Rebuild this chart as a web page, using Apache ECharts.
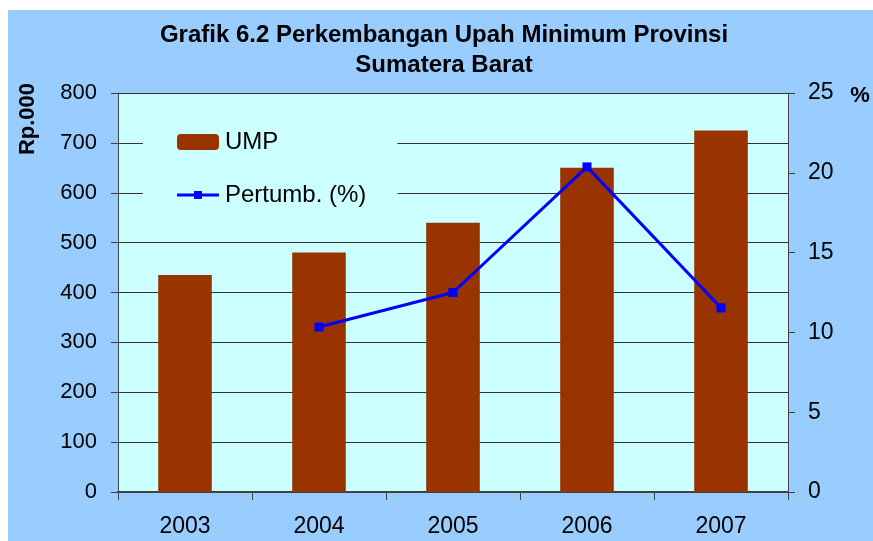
<!DOCTYPE html>
<html>
<head>
<meta charset="utf-8">
<script src="https://cdn.jsdelivr.net/npm/echarts@6/dist/echarts.min.js"></script>
<style>
  html, body { margin: 0; padding: 0; background: #ffffff; }
  #chart { width: 873px; height: 541px; }
</style>
</head>
<body>
<div id="chart"></div>
<script>
// Upah Minimum Provinsi Sumatera Barat (Rp.000) and its yearly growth (%)
const years = ['2003', '2004', '2005', '2006', '2007'];
const ump = [435, 480, 540, 650, 725];
const pertumbuhan = [null, 10.34, 12.5, 20.37, 11.54];
const leftTicks = { min: 0, max: 800, interval: 100 };
const rightTicks = { min: 0, max: 25, interval: 5 };

const FONT = '"Liberation Sans", Arial, sans-serif';
const chart = echarts.init(document.getElementById('chart'), null, { renderer: 'canvas' });

// legend icon for the growth line: a thick stroke with a square marker in the middle
const lineWithSquare = 'path://M0,6.5L42,6.5L42,9.5L0,9.5Z M17,4L25,4L25,12L17,12Z';

chart.setOption({
  backgroundColor: '#ffffff',
  animation: false,
  title: {
    text: 'Grafik 6.2 Perkembangan Upah Minimum Provinsi\nSumatera Barat',
    left: 439,
    top: 15,
    textAlign: 'center',
    textStyle: {
      fontFamily: FONT, fontSize: 24, fontWeight: 'bold', color: '#000000', lineHeight: 30
    }
  },
  graphic: [
    {
      type: 'rect', z: -10, silent: true,
      shape: { x: 8, y: 10, width: 865, height: 531 },
      style: { fill: '#99CCFF' }
    },
    {
      type: 'text', x: 28, y: 119, rotation: Math.PI / 2,
      style: {
        text: 'Rp.000', fontFamily: FONT, fontSize: 22, fontWeight: 'bold',
        fill: '#000000', align: 'center', verticalAlign: 'middle'
      }
    },
    {
      type: 'text', x: 860, y: 96,
      style: {
        text: '%', fontFamily: FONT, fontSize: 22, fontWeight: 'bold',
        fill: '#000000', align: 'center', verticalAlign: 'middle'
      }
    }
  ],
  legend: {
    orient: 'vertical',
    left: 143,
    top: 118,
    padding: [12, 31, 12, 34],
    backgroundColor: '#CCFFFF',
    itemWidth: 42,
    itemHeight: 16,
    itemGap: 29,
    textStyle: { fontFamily: FONT, fontSize: 24, color: '#000000', lineHeight: 22, padding: [0, 0, 0, 1] },
    data: [
      { name: 'UMP' },
      { name: 'Pertumb. (%)', icon: lineWithSquare, itemStyle: { color: '#0000FF' } }
    ]
  },
  grid: {
    left: 118, right: 85, top: 93, bottom: 49,
    show: true, backgroundColor: '#CCFFFF', borderWidth: 0
  },
  xAxis: {
    type: 'category',
    data: years,
    boundaryGap: true,
    axisLine: { show: true, lineStyle: { color: '#404040', width: 2 } },
    axisTick: { show: true, alignWithLabel: false, length: 8, lineStyle: { color: '#404040', width: 1 } },
    axisLabel: { fontFamily: FONT, fontSize: 23, color: '#000000', margin: 23 },
    splitLine: { show: false }
  },
  yAxis: [
    {
      type: 'value',
      min: leftTicks.min, max: leftTicks.max, interval: leftTicks.interval,
      axisLine: { show: true, lineStyle: { color: '#404040', width: 1 } },
      axisTick: { show: true, length: 7, lineStyle: { color: '#404040' } },
      axisLabel: { fontFamily: FONT, fontSize: 22, color: '#000000', margin: 21 },
      splitLine: { show: true, lineStyle: { color: '#333333', width: 1 } }
    },
    {
      type: 'value',
      min: rightTicks.min, max: rightTicks.max, interval: rightTicks.interval,
      position: 'right',
      axisLine: { show: true, lineStyle: { color: '#404040', width: 1 } },
      axisTick: { show: true, length: 7, lineStyle: { color: '#404040' } },
      axisLabel: { fontFamily: FONT, fontSize: 23, color: '#000000', margin: 20 },
      splitLine: { show: false }
    }
  ],
  series: [
    {
      name: 'UMP',
      type: 'bar',
      data: ump,
      barWidth: '40%',
      itemStyle: { color: '#993300' }
    },
    {
      name: 'Pertumb. (%)',
      type: 'line',
      yAxisIndex: 1,
      data: pertumbuhan,
      connectNulls: false,
      symbol: 'rect',
      symbolSize: 9,
      lineStyle: { color: '#0000FF', width: 3 },
      itemStyle: { color: '#0000FF' },
      z: 5
    }
  ]
});
</script>
</body>
</html>
